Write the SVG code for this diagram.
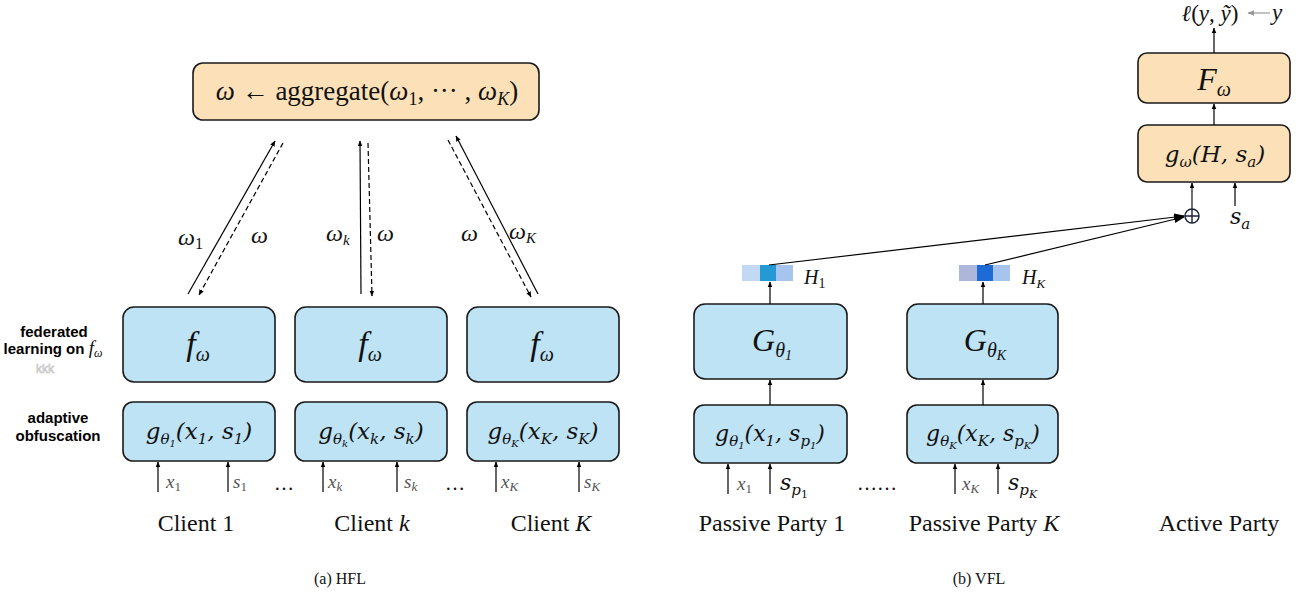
<svg xmlns="http://www.w3.org/2000/svg" width="1310" height="597" viewBox="0 0 1310 597">
<style>
.blue{fill:#BEE3F5;stroke:#1a1a1a;stroke-width:1.6}
.orange{fill:#FCE1B8;stroke:#1a1a1a;stroke-width:1.6}
.ln{stroke:#000;stroke-width:1.2;fill:none}
.dash{stroke:#000;stroke-width:1.2;fill:none;stroke-dasharray:5,3}
.m{font-family:"Liberation Serif","DejaVu Serif",serif;font-style:italic;fill:#111}
.r{font-family:"Liberation Serif","DejaVu Serif",serif;fill:#111}
.cam{font-family:"DejaVu Serif","Liberation Serif",serif;font-style:italic;fill:#111}
.lbl{font-family:"Liberation Sans",Arial,sans-serif;font-weight:bold;font-size:15px;fill:#000;text-anchor:middle}
.cap{font-family:"Liberation Serif","Times New Roman",serif;font-size:24px;fill:#111;text-anchor:middle}
.grey{fill:#555}
</style>
<defs>
<marker id="ah" viewBox="0 0 10 10" refX="9" refY="5" markerWidth="6" markerHeight="6" orient="auto" markerUnits="userSpaceOnUse">
<path d="M0,1 L10,5 L0,9 z" fill="#000"/>
</marker>
<marker id="ahg" viewBox="0 0 10 10" refX="9" refY="5" markerWidth="7" markerHeight="7" orient="auto" markerUnits="userSpaceOnUse">
<path d="M0,1 L10,5 L0,9 z" fill="#999"/>
</marker>
<marker id="ahb" viewBox="0 0 10 10" refX="9" refY="5" markerWidth="11" markerHeight="11" orient="auto" markerUnits="userSpaceOnUse">
<path d="M0,1.5 L10,5 L0,8.5 z" fill="#000"/>
</marker>
</defs>

<!-- HFL side labels -->
<g id="side-labels">
<text class="lbl" x="54" y="337">federated</text>
<text class="lbl" x="53" y="354">learning on <tspan class="m" style="font-weight:normal;font-size:19px">f</tspan><tspan class="m" style="font-weight:normal;font-size:12px" dy="3">ω</tspan></text>
<text x="45" y="373" font-family="Liberation Sans,Arial,sans-serif" font-size="12" fill="#fff" stroke="#bbb" stroke-width="0.6" text-anchor="middle">kkk</text>
<text class="lbl" x="58" y="423">adaptive</text>
<text class="lbl" x="58" y="441">obfuscation</text>
</g>

<!-- aggregate -->
<g id="aggregate">
<rect class="orange" x="193" y="63" width="346" height="57" rx="10"/>
<text class="r" x="367" y="100" font-size="27" text-anchor="middle"><tspan class="m">ω</tspan> ← aggregate(<tspan class="m">ω</tspan><tspan font-size="18" dy="5">1</tspan><tspan dy="-5">, ··· , </tspan><tspan class="m">ω</tspan><tspan class="m" font-size="18" dy="5">K</tspan><tspan dy="-5">)</tspan></text>
</g>

<!-- HFL client f boxes -->
<g id="f1"><rect class="blue" x="123" y="307" width="152" height="75" rx="11"/><text class="m" x="198" y="355" font-size="34" text-anchor="middle">f<tspan font-size="20" dy="6">ω</tspan></text></g>
<g id="f2"><rect class="blue" x="295" y="307" width="152" height="75" rx="11"/><text class="m" x="370" y="355" font-size="34" text-anchor="middle">f<tspan font-size="20" dy="6">ω</tspan></text></g>
<g id="f3"><rect class="blue" x="467" y="307" width="152" height="75" rx="11"/><text class="m" x="542" y="355" font-size="34" text-anchor="middle">f<tspan font-size="20" dy="6">ω</tspan></text></g>

<!-- HFL g boxes -->
<g id="g1"><rect class="blue" x="123" y="402" width="152" height="59" rx="10"/><text class="cam" x="199" y="439" font-size="23" text-anchor="middle">g<tspan font-size="15" dy="5">θ</tspan><tspan font-size="10" dy="3">1</tspan><tspan dy="-8">(x</tspan><tspan font-size="15" dy="5">1</tspan><tspan dy="-5">, s</tspan><tspan font-size="15" dy="5">1</tspan><tspan dy="-5">)</tspan></text></g>
<g id="g2"><rect class="blue" x="295" y="402" width="152" height="59" rx="10"/><text class="cam" x="371" y="439" font-size="23" text-anchor="middle">g<tspan font-size="15" dy="5">θ</tspan><tspan font-size="10" dy="3">k</tspan><tspan dy="-8">(x</tspan><tspan font-size="15" dy="5">k</tspan><tspan dy="-5">, s</tspan><tspan font-size="15" dy="5">k</tspan><tspan dy="-5">)</tspan></text></g>
<g id="g3"><rect class="blue" x="467" y="402" width="152" height="59" rx="10"/><text class="cam" x="543" y="439" font-size="23" text-anchor="middle">g<tspan font-size="15" dy="5">θ</tspan><tspan font-size="10" dy="3">K</tspan><tspan dy="-8">(x</tspan><tspan font-size="15" dy="5">K</tspan><tspan dy="-5">, s</tspan><tspan font-size="15" dy="5">K</tspan><tspan dy="-5">)</tspan></text></g>

<!-- VFL G boxes -->
<g id="G1"><rect class="blue" x="694" y="304" width="153" height="75" rx="11"/><text class="m" x="772" y="351" font-size="32" text-anchor="middle">G<tspan font-size="20" dy="6">θ</tspan><tspan font-size="14" dy="3">1</tspan></text></g>
<g id="GK"><rect class="blue" x="907" y="304" width="151" height="75" rx="11"/><text class="m" x="985" y="351" font-size="32" text-anchor="middle">G<tspan font-size="20" dy="6">θ</tspan><tspan font-size="14" dy="3">K</tspan></text></g>

<!-- VFL g boxes -->
<g id="gp1"><rect class="blue" x="694" y="405" width="153" height="58" rx="10"/><text class="cam" x="770" y="441" font-size="22" text-anchor="middle">g<tspan font-size="15" dy="5">θ</tspan><tspan font-size="10" dy="3">1</tspan><tspan dy="-8">(x</tspan><tspan font-size="15" dy="5">1</tspan><tspan dy="-5">, s</tspan><tspan font-size="15" dy="5">p</tspan><tspan font-size="10" dy="3">1</tspan><tspan dy="-8">)</tspan></text></g>
<g id="gpK"><rect class="blue" x="907" y="405" width="151" height="58" rx="10"/><text class="cam" x="983" y="441" font-size="22" text-anchor="middle">g<tspan font-size="15" dy="5">θ</tspan><tspan font-size="10" dy="3">K</tspan><tspan dy="-8">(x</tspan><tspan font-size="15" dy="5">K</tspan><tspan dy="-5">, s</tspan><tspan font-size="15" dy="5">p</tspan><tspan font-size="10" dy="3">K</tspan><tspan dy="-8">)</tspan></text></g>

<!-- H vectors -->
<g id="H1">
<rect x="742" y="265" width="18" height="16" fill="#C3D8F3"/>
<rect x="760" y="265" width="16" height="16" fill="#2499D4"/>
<rect x="776" y="265" width="17" height="16" fill="#A6C4EE"/>
<text class="m" x="804" y="284" font-size="20">H<tspan font-style="normal" font-size="14" dy="4">1</tspan></text>
</g>
<g id="HK">
<rect x="959" y="265" width="18" height="16" fill="#AEB6DA"/>
<rect x="977" y="265" width="16" height="16" fill="#1F6BD6"/>
<rect x="993" y="265" width="17" height="16" fill="#A6C4EE"/>
<text class="m" x="1022" y="284" font-size="20">H<tspan font-size="13" dy="4">K</tspan></text>
</g>

<!-- Active party -->
<g id="F">
<rect class="orange" x="1138" y="53" width="152" height="50" rx="9"/>
<text class="m" x="1214" y="90" font-size="32" text-anchor="middle">F<tspan font-size="20" dy="6">ω</tspan></text>
</g>
<g id="gw">
<rect class="orange" x="1138" y="125" width="152" height="57" rx="9"/>
<text class="cam" x="1215" y="162" font-size="23" text-anchor="middle">g<tspan font-size="15" dy="5">ω</tspan><tspan dy="-5">(H, s</tspan><tspan font-size="15" dy="5">a</tspan><tspan dy="-5">)</tspan></text>
</g>
<g id="oplus">
<circle cx="1192" cy="216" r="7" fill="none" stroke="#1a2238" stroke-width="1.4"/>
<path d="M1185,216 H1199 M1192,209 V223" stroke="#1a2238" stroke-width="1.4"/>
</g>
<g id="loss">
<text class="m" x="1210" y="21" font-size="23" text-anchor="middle"><tspan font-style="italic">ℓ</tspan><tspan font-style="normal">(</tspan>y<tspan font-style="normal">, </tspan>ỹ<tspan font-style="normal">)</tspan></text>
<text class="m" x="1272" y="20" font-size="23">y</text>
</g>

<!-- connectors -->
<g id="connectors">
<line class="ln" x1="188" y1="294" x2="275" y2="141" marker-end="url(#ah)"/>
<line class="dash" x1="283" y1="143" x2="199" y2="295" marker-end="url(#ah)"/>
<line class="ln" x1="361" y1="294" x2="360" y2="141" marker-end="url(#ah)"/>
<line class="dash" x1="368" y1="143" x2="372" y2="296" marker-end="url(#ah)"/>
<line class="dash" x1="448" y1="140" x2="531" y2="297" marker-end="url(#ah)"/>
<line class="ln" x1="538" y1="294" x2="456" y2="136" marker-end="url(#ah)"/>
<line class="ln" x1="158" y1="492" x2="158" y2="462" marker-end="url(#ah)"/>
<line class="ln" x1="228" y1="492" x2="228" y2="462" marker-end="url(#ah)"/>
<line class="ln" x1="323" y1="492" x2="323" y2="462" marker-end="url(#ah)"/>
<line class="ln" x1="397" y1="492" x2="397" y2="462" marker-end="url(#ah)"/>
<line class="ln" x1="496" y1="492" x2="496" y2="462" marker-end="url(#ah)"/>
<line class="ln" x1="579" y1="492" x2="579" y2="462" marker-end="url(#ah)"/>
<line class="ln" x1="728" y1="494" x2="728" y2="464" marker-end="url(#ah)"/>
<line class="ln" x1="770" y1="494" x2="770" y2="464" marker-end="url(#ah)"/>
<line class="ln" x1="955" y1="494" x2="955" y2="464" marker-end="url(#ah)"/>
<line class="ln" x1="998" y1="494" x2="998" y2="464" marker-end="url(#ah)"/>
<line class="ln" x1="770" y1="405" x2="770" y2="380" marker-end="url(#ah)"/>
<line class="ln" x1="983" y1="405" x2="983" y2="380" marker-end="url(#ah)"/>
<line class="ln" x1="770" y1="304" x2="770" y2="282" marker-end="url(#ah)"/>
<line class="ln" x1="983" y1="304" x2="983" y2="282" marker-end="url(#ah)"/>
<line class="ln" x1="769" y1="265" x2="1184" y2="216" marker-end="url(#ahb)"/>
<line class="ln" x1="985" y1="265" x2="1184" y2="217" marker-end="url(#ahb)"/>
<line x1="1192" y1="209" x2="1192" y2="183" stroke="#333" stroke-width="1.4" marker-end="url(#ah)"/>
<line class="ln" x1="1235" y1="206" x2="1235" y2="183" marker-end="url(#ah)"/>
<line class="ln" x1="1214" y1="125" x2="1214" y2="104" marker-end="url(#ah)"/>
<line class="ln" x1="1214" y1="53" x2="1214" y2="28" marker-end="url(#ah)"/>
<line x1="1270" y1="13" x2="1248" y2="13" stroke="#999" stroke-width="1.2" marker-end="url(#ahg)"/>
</g>

<!-- connector labels -->
<g id="edge-labels">
<text class="m" x="178" y="245" font-size="24">ω<tspan font-style="normal" font-size="16" dy="4">1</tspan></text>
<text class="m" x="251" y="243" font-size="24">ω</text>
<text class="m" x="326" y="241" font-size="24">ω<tspan font-size="15" dy="4">k</tspan></text>
<text class="m" x="377" y="241" font-size="24">ω</text>
<text class="m" x="461" y="241" font-size="24">ω</text>
<text class="m" x="509" y="239" font-size="24">ω<tspan font-size="15" dy="4">K</tspan></text>
</g>

<!-- input labels -->
<g id="input-labels">
<text class="m grey" x="166" y="488" font-size="19">x<tspan font-style="normal" font-size="13" dy="3">1</tspan></text>
<text class="m grey" x="233" y="488" font-size="19">s<tspan font-style="normal" font-size="13" dy="3">1</tspan></text>
<text class="r" x="284" y="490" font-size="20" text-anchor="middle">…</text>
<text class="m grey" x="328" y="488" font-size="19">x<tspan font-size="13" dy="3">k</tspan></text>
<text class="m grey" x="404" y="488" font-size="19">s<tspan font-size="13" dy="3">k</tspan></text>
<text class="r" x="455" y="490" font-size="20" text-anchor="middle">…</text>
<text class="m grey" x="501" y="488" font-size="19">x<tspan font-size="13" dy="3">K</tspan></text>
<text class="m grey" x="584" y="488" font-size="19">s<tspan font-size="13" dy="3">K</tspan></text>

<text class="m grey" x="737" y="490" font-size="19">x<tspan font-style="normal" font-size="13" dy="3">1</tspan></text>
<text class="cam" x="780" y="490" font-size="22">s<tspan font-size="15" dy="5">p</tspan><tspan font-size="11" font-style="normal" dy="3">1</tspan></text>
<text class="r" x="877" y="490" font-size="20" text-anchor="middle">……</text>
<text class="m grey" x="962" y="490" font-size="19">x<tspan font-size="13" dy="3">K</tspan></text>
<text class="cam" x="1008" y="490" font-size="22">s<tspan font-size="15" dy="5">p</tspan><tspan font-size="11" dy="3">K</tspan></text>
<text class="cam" x="1230" y="224" font-size="22">s<tspan font-size="15" dy="5">a</tspan></text>
</g>

<!-- captions -->
<g id="captions">
<text class="cap" x="196" y="531">Client 1</text>
<text class="cap" x="372" y="531">Client <tspan font-style="italic">k</tspan></text>
<text class="cap" x="551" y="531">Client <tspan font-style="italic">K</tspan></text>
<text class="cap" x="772" y="531">Passive Party 1</text>
<text class="cap" x="984" y="531">Passive Party <tspan font-style="italic">K</tspan></text>
<text class="cap" x="1219" y="531">Active Party</text>
<text class="r" x="340" y="584" font-size="16" text-anchor="middle">(a) HFL</text>
<text class="r" x="979" y="584" font-size="16" text-anchor="middle">(b) VFL</text>
</g>
</svg>
